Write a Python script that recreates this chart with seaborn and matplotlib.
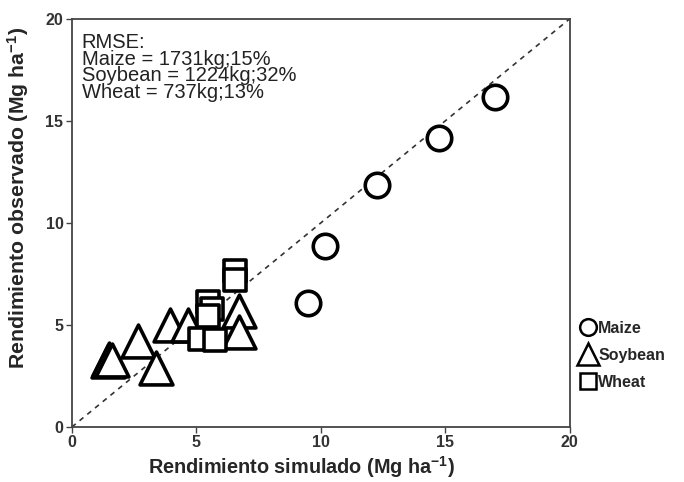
import matplotlib
matplotlib.use("Agg")
import matplotlib.pyplot as plt
from matplotlib.lines import Line2D
import seaborn as sns
import pandas as pd

maize_sim = [17.0, 14.75, 12.25, 10.15, 9.5]
maize_obs = [16.15, 14.15, 11.85, 8.85, 6.1]
soy_sim = [1.5, 1.45, 1.62, 2.65, 3.4, 3.95, 4.65, 6.7, 6.7]
soy_obs = [3.35, 3.25, 3.3, 4.2, 2.9, 5.0, 5.0, 5.7, 4.65]
wheat_sim = [6.55, 6.55, 5.45, 5.65, 5.45, 5.15, 5.75]
wheat_obs = [7.65, 7.2, 6.15, 5.8, 5.45, 4.3, 4.26]
crops = ["Maize", "Soybean", "Wheat"]
rmse_lines = ["RMSE:", "Maize = 1731kg;15%", "Soybean = 1224kg;32%", "Wheat = 737kg;13%"]

df = pd.DataFrame({
    "sim": maize_sim + soy_sim + wheat_sim,
    "obs": maize_obs + soy_obs + wheat_obs,
    "crop": ["Maize"] * len(maize_sim) + ["Soybean"] * len(soy_sim) + ["Wheat"] * len(wheat_sim),
})

sns.set_theme(style="white")
plt.rcParams["font.family"] = ["Liberation Sans", "DejaVu Sans"]
plt.rcParams["mathtext.fontset"] = "custom"
plt.rcParams["mathtext.rm"] = "Liberation Sans:bold"
plt.rcParams["mathtext.it"] = "Liberation Sans:bold"
plt.rcParams["mathtext.bf"] = "Liberation Sans:bold"

fig = plt.figure(figsize=(6.84, 4.82), dpi=100)
ax = fig.add_axes([0.105, 0.114, 0.728, 0.847])

ax.plot([0, 20], [0, 20], ls=(0, (3, 3)), color="#333333", lw=1.2, zorder=1)

markers = {"Maize": "o", "Soybean": "^", "Wheat": "s"}
sizes = {"Maize": 310, "Soybean": 560, "Wheat": 240}
for c in crops:
    sub = df[df["crop"] == c]
    sns.scatterplot(data=sub, x="sim", y="obs", marker=markers[c], s=sizes[c],
                    facecolor="white", edgecolor="black", linewidth=2.6,
                    ax=ax, legend=False, zorder=3)

ax.set_xlim(0, 20)
ax.set_ylim(0, 20)
ax.set_xticks([0, 5, 10, 15, 20])
ax.set_yticks([0, 5, 10, 15, 20])
for s in ax.spines.values():
    s.set_color("#444444")
    s.set_linewidth(1.3)
ax.tick_params(direction="out", length=4, width=1, color="#444444", labelsize=11.5, pad=2,
               bottom=True, left=True)
for lab in ax.get_xticklabels() + ax.get_yticklabels():
    lab.set_fontweight("bold")
    lab.set_color("#333333")

ax.set_xlabel(r"Rendimiento simulado (Mg ha$^{-1}$)", fontsize=14.3, fontweight="bold")
ax.set_ylabel(r"Rendimiento observado (Mg ha$^{-1}$)", fontsize=15.3, fontweight="bold")
ax.xaxis.set_label_coords(0.462, -0.066)
ax.yaxis.set_label_coords(-0.082, 0.56)

ax.text(0.02, 0.965, "\n".join(rmse_lines), transform=ax.transAxes, va="top", ha="left",
        fontsize=14.5, linespacing=0.84, color="#222222")

handles = [Line2D([], [], marker=markers[c], ls="", markerfacecolor="white",
                  markeredgecolor="black", markeredgewidth=1.8,
                  markersize={"Maize": 12, "Soybean": 16, "Wheat": 11.5}[c]) for c in crops]
leg = fig.legend(handles, crops, loc="center left", bbox_to_anchor=(0.828, 0.263),
                 frameon=False, handlelength=0.9, handletextpad=0.2, labelspacing=0.75,
                 prop={"weight": "bold", "size": 11.5})

fig.savefig("out.png", dpi=100)
